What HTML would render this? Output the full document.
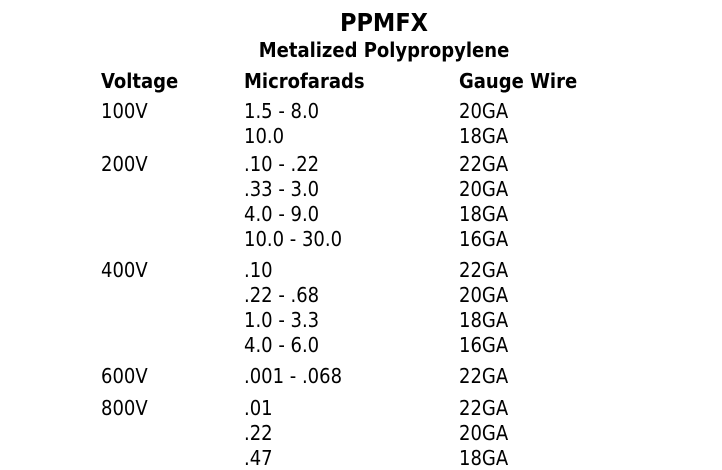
<!DOCTYPE html>
<html><head><meta charset="utf-8"><style>
body{margin:0;width:722px;height:469px;background:#fff;position:relative;overflow:hidden;font-family:"DejaVu Sans Condensed","Liberation Sans",sans-serif;color:#000}
div{position:absolute;white-space:nowrap;line-height:1;font-size:20px}
.b{font-weight:bold;font-size:20px}
.c{left:0;width:768px;text-align:center}
</style></head><body>
<div class="b c" style="top:10px;font-size:25px">PPMFX</div>
<div class="b c" style="top:40px;font-size:20px">Metalized Polypropylene</div>
<div class="b" style="left:101px;top:71px">Voltage</div>
<div class="b" style="left:244px;top:71px">Microfarads</div>
<div class="b" style="left:459px;top:71px">Gauge Wire</div>

<div style="left:101px;top:101px">100V</div>
<div style="left:244px;top:101px">1.5 - 8.0</div><div style="left:459px;top:101px">20GA</div>
<div style="left:244px;top:126px">10.0</div><div style="left:459px;top:126px">18GA</div>

<div style="left:101px;top:154px">200V</div>
<div style="left:244px;top:154px">.10 - .22</div><div style="left:459px;top:154px">22GA</div>
<div style="left:244px;top:179px">.33 - 3.0</div><div style="left:459px;top:179px">20GA</div>
<div style="left:244px;top:204px">4.0 - 9.0</div><div style="left:459px;top:204px">18GA</div>
<div style="left:244px;top:229px">10.0 - 30.0</div><div style="left:459px;top:229px">16GA</div>

<div style="left:101px;top:260px">400V</div>
<div style="left:244px;top:260px">.10</div><div style="left:459px;top:260px">22GA</div>
<div style="left:244px;top:285px">.22 - .68</div><div style="left:459px;top:285px">20GA</div>
<div style="left:244px;top:310px">1.0 - 3.3</div><div style="left:459px;top:310px">18GA</div>
<div style="left:244px;top:335px">4.0 - 6.0</div><div style="left:459px;top:335px">16GA</div>

<div style="left:101px;top:366px">600V</div>
<div style="left:244px;top:366px">.001 - .068</div><div style="left:459px;top:366px">22GA</div>

<div style="left:101px;top:398px">800V</div>
<div style="left:244px;top:398px">.01</div><div style="left:459px;top:398px">22GA</div>
<div style="left:244px;top:423px">.22</div><div style="left:459px;top:423px">20GA</div>
<div style="left:244px;top:448px">.47</div><div style="left:459px;top:448px">18GA</div>
</body></html>
